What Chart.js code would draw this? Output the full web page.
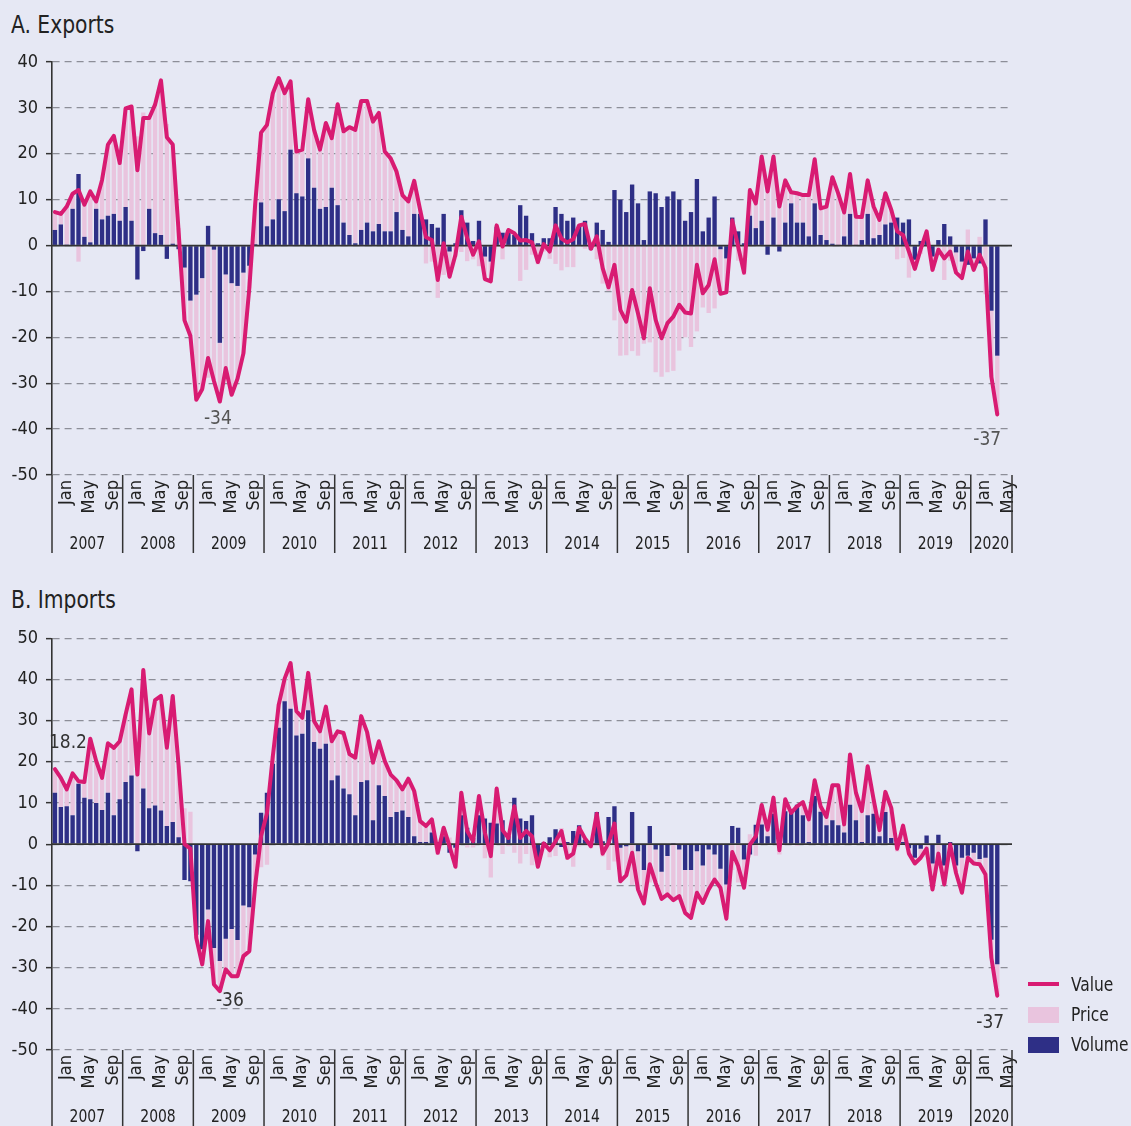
<!DOCTYPE html>
<html>
<head>
<meta charset="utf-8">
<script src="https://cdn.jsdelivr.net/npm/chart.js@4.4.0/dist/chart.umd.min.js"></script>
<style>
  html, body { margin: 0; padding: 0; background: #e6e8f4; }
  body { width: 1131px; height: 1126px; position: relative; overflow: hidden;
         font-family: 'DejaVu Sans Condensed', 'Liberation Sans', sans-serif; color: #222; }
  .title { position: absolute; left: 11px; font-size: 24px; line-height: 30px; white-space: nowrap;
           transform: scaleX(0.94); transform-origin: left center; }
  .wrap { position: absolute; left: 0; width: 1131px; }
  .lg-sw { position: absolute; left: 1028px; width: 31px; }
  .lg-tx { position: absolute; left: 1071px; font-size: 20px; line-height: 24px; white-space: nowrap;
           transform: scaleX(0.86); transform-origin: left center; }
</style>
</head>
<body>
<div class="title" style="top:10px">A. Exports</div>
<div class="title" style="top:585px">B. Imports</div>
<div class="wrap" style="top:0;height:560px"><canvas id="exp" width="1131" height="560"></canvas></div>
<div class="wrap" style="top:575px;height:551px"><canvas id="imp" width="1131" height="551"></canvas></div>

<div class="lg-sw" style="top:982px;height:4px;background:#d81b72"></div>
<div class="lg-tx" style="top:972px">Value</div>
<div class="lg-sw" style="top:1007px;height:16px;background:#e9c4de"></div>
<div class="lg-tx" style="top:1002px">Price</div>
<div class="lg-sw" style="top:1037px;height:16px;background:#2e2f86"></div>
<div class="lg-tx" style="top:1032px">Volume</div>

<script>
// ---------- categories ----------
const YEARS = [2007, 2008, 2009, 2010, 2011, 2012, 2013, 2014, 2015, 2016, 2017, 2018, 2019, 2020];
const MONTHS = ['Jan','Feb','Mar','Apr','May','Jun','Jul','Aug','Sep','Oct','Nov','Dec'];
const SHOWN_MONTHS = ['Jan', 'May', 'Sep'];
const LAST_YEAR_MONTHS = 7;   // axis runs through Jul 2020, data ends May 2020

// ---------- A. Exports (year-on-year % change) ----------
const exportsVolume = [
  3.4, 4.6, 0.2, 8.0, 15.6, 1.9, 0.7, 8.0, 5.7, 6.5, 6.9, 5.4,
  8.4, 5.4, -7.4, -1.2, 8.0, 2.7, 2.3, -2.9, 0.4, -0.8, -4.8, -12.0,
  -10.7, -7.1, 4.3, -0.9, -21.2, -6.3, -8.2, -8.8, -5.9, -4.4, 0.3, 9.4,
  4.2, 5.7, 10.1, 7.5, 20.9, 11.4, 10.7, 19.0, 12.6, 8.0, 8.4, 12.6,
  8.8, 5.0, 2.3, 0.5, 3.4, 5.0, 3.1, 4.7, 3.1, 3.1, 7.3, 3.4,
  2.0, 6.9, 6.9, 5.7, 4.7, 3.9, 6.9, -1.3, 0.5, 7.7, 5.0, 1.0,
  5.4, -2.4, -3.5, 4.1, 2.8, 3.4, 2.3, 8.8, 6.5, 2.7, 0.5, 1.6,
  1.6, 8.4, 6.9, 5.4, 6.1, 4.5, 5.4, -0.9, 5.0, 3.4, 0.8, 12.1,
  10.0, 7.3, 13.3, 9.2, 1.2, 11.8, 11.4, 8.4, 10.7, 11.8, 10.0, 5.4,
  7.3, 14.5, 3.1, 6.1, 10.7, -0.8, -2.8, 6.1, 3.1, 0.5, 6.5, 3.8,
  5.4, -2.0, 6.1, -1.3, 5.0, 9.2, 5.0, 5.0, 2.0, 9.2, 2.3, 1.2,
  0.4, 0.1, 2.0, 6.9, 0.1, 1.2, 6.9, 1.6, 2.3, 4.6, 5.0, 6.1,
  5.0, 5.7, -3.1, 1.0, 2.0, -2.4, 1.2, 4.7, 2.0, -1.5, -3.5, -4.2,
  -2.8, -3.9, 5.7, -14.2, -24.0
];
const exportsPrice = [
  3.9, 2.3, 8.3, 3.3, -3.5, 7.0, 11.1, 1.6, 8.6, 15.5, 17.0, 12.6,
  21.5, 24.9, 23.8, 29.0, 19.8, 28.0, 33.7, 26.5, 21.6, 3.8, -11.5, -7.7,
  -22.9, -24.2, -28.8, -28.6, -12.8, -20.4, -24.3, -20.2, -17.6, -4.9, 8.7, 15.2,
  22.1, 27.5, 26.4, 25.7, 14.9, 9.1, 10.2, 12.9, 12.6, 12.9, 18.3, 10.8,
  22.0, 19.9, 23.5, 24.7, 28.1, 26.5, 23.9, 24.2, 17.4, 15.9, 8.8, 7.6,
  7.6, 7.2, 0.9, -3.9, -3.5, -11.4, -6.4, -5.5, -2.5, -1.4, -3.4, -3.0,
  -4.5, -4.9, -4.3, 0.3, -3.0, 0.0, 0.4, -7.7, -5.3, -2.0, -4.1, -1.3,
  -2.9, -4.0, -5.4, -4.7, -4.7, -0.1, -0.7, 0.2, -3.0, -8.3, -9.9, -16.3,
  -24.0, -23.9, -23.0, -24.0, -21.4, -21.1, -27.6, -28.6, -27.6, -27.3, -22.9, -20.0,
  -22.1, -18.7, -13.5, -14.7, -13.7, -9.7, -7.4, -0.6, -3.3, -6.4, 5.6, 5.4,
  14.0, 13.8, 13.3, 9.8, 9.2, 2.4, 6.4, 6.0, 9.0, 9.6, 5.8, 7.3,
  14.5, 11.2, 5.2, 8.7, 6.2, 5.0, 7.3, 6.9, 3.3, 6.8, 2.8, -3.0,
  -2.7, -7.0, -2.0, -1.8, 1.1, -2.9, -2.1, -7.5, -3.3, -4.4, -3.6, 3.5,
  -2.5, 1.9, -10.6, -14.4, -12.8
];
const exportsValue = [
  7.3, 6.9, 8.5, 11.3, 12.1, 8.9, 11.8, 9.6, 14.3, 22.0, 23.9, 18.0,
  29.9, 30.3, 16.4, 27.8, 27.8, 30.7, 36.0, 23.6, 22.0, 3.0, -16.3, -19.7,
  -33.6, -31.3, -24.5, -29.5, -34.0, -26.7, -32.5, -29.0, -23.5, -9.3, 9.0, 24.6,
  26.3, 33.2, 36.5, 33.2, 35.8, 20.5, 20.9, 31.9, 25.2, 20.9, 26.7, 23.4,
  30.8, 24.9, 25.8, 25.2, 31.5, 31.5, 27.0, 28.9, 20.5, 19.0, 16.1, 11.0,
  9.6, 14.1, 7.8, 1.8, 1.2, -7.5, 0.5, -6.8, -2.0, 6.3, 1.6, -2.0,
  0.9, -7.3, -7.8, 4.4, -0.2, 3.4, 2.7, 1.1, 1.2, 0.7, -3.6, 0.3,
  -1.3, 4.4, 1.5, 0.7, 1.4, 4.4, 4.7, -0.7, 2.0, -4.9, -9.1, -4.2,
  -14.0, -16.6, -9.7, -14.8, -20.2, -9.3, -16.2, -20.2, -16.9, -15.5, -12.9, -14.6,
  -14.8, -4.2, -10.4, -8.6, -3.0, -10.5, -10.2, 5.5, -0.2, -5.9, 12.1, 9.2,
  19.4, 11.8, 19.4, 8.5, 14.2, 11.6, 11.4, 11.0, 11.0, 18.8, 8.1, 8.5,
  14.9, 11.3, 7.2, 15.6, 6.3, 6.2, 14.2, 8.5, 5.6, 11.4, 7.8, 3.1,
  2.3, -1.3, -5.1, -0.8, 3.1, -5.3, -0.9, -2.8, -1.3, -5.9, -7.1, -1.3,
  -5.3, -2.0, -4.9, -28.6, -36.8
];

// ---------- B. Imports (year-on-year % change) ----------
const importsVolume = [
  12.5, 9.0, 9.2, 7.0, 14.7, 11.3, 10.9, 10.0, 8.3, 12.5, 7.0, 10.9,
  15.1, 16.7, -1.7, 13.5, 8.7, 9.4, 8.2, 4.4, 5.4, 1.7, -8.7, -9.0,
  -22.0, -25.5, -15.9, -25.2, -28.4, -23.0, -20.6, -23.3, -14.9, -15.3, -2.5, 7.6,
  12.5, 19.5, 28.3, 34.7, 32.9, 26.4, 26.8, 32.5, 24.8, 23.2, 24.4, 15.5,
  16.7, 13.5, 12.1, 7.0, 15.1, 15.5, 5.8, 14.3, 11.7, 6.6, 7.8, 8.2,
  6.6, 1.9, 0.5, 0.5, 2.8, 0.5, 1.9, -2.1, -0.9, 7.0, 4.0, 1.5,
  7.0, 6.2, 5.2, 5.0, 5.8, 2.0, 11.3, 6.2, 5.6, 7.0, -3.7, 0.5,
  1.7, 3.6, -0.7, 0.5, 3.2, 4.6, 1.1, 0.5, 7.8, 0.7, 6.6, 9.2,
  -0.9, -0.5, 7.8, -1.7, -6.3, 4.4, -1.3, -6.7, -2.9, 0.3, -1.3, -6.3,
  -6.3, -1.7, -5.2, -1.3, -2.5, -6.0, -9.8, 4.4, 4.0, -3.7, -2.5, 4.7,
  4.8, 1.9, 7.4, 1.0, 8.0, 7.6, 9.6, 7.0, 0.5, 11.7, 7.9, 4.6,
  5.8, 4.6, 2.8, 9.6, 5.8, 0.5, 7.0, 7.4, 1.9, 7.8, 1.5, 0.7,
  0.5, -1.0, -3.3, -1.1, 2.1, -4.7, 2.3, -5.2, 0.5, -5.2, -3.3, -2.8,
  -2.1, -3.6, -3.3, -23.2, -29.2
];
const importsPrice = [
  5.7, 7.1, 4.1, 10.2, 0.6, 3.8, 14.7, 10.2, 7.8, 12.0, 16.4, 14.1,
  16.4, 20.9, 18.6, 28.8, 18.2, 25.6, 27.8, 19.0, 30.6, 17.3, 8.7, 7.9,
  -0.8, -3.7, -2.8, -8.9, -7.3, -7.4, -11.5, -8.8, -12.3, -10.7, -7.5, -5.6,
  -5.0, 1.9, 5.6, 5.5, 11.1, 5.9, 3.9, 9.1, 5.1, 4.2, 9.0, 9.5,
  10.7, 13.5, 9.8, 14.0, 16.0, 11.7, 14.0, 10.7, 8.5, 10.3, 7.7, 5.1,
  9.3, 11.0, 5.1, 3.9, 3.2, -2.6, 2.1, 1.6, -4.6, 5.5, -0.8, -0.8,
  4.7, -3.4, -8.1, 8.5, -2.4, -0.5, -2.1, -4.7, -2.4, -5.1, -1.8, -0.3,
  -3.2, -2.9, 3.9, -3.8, -5.5, -0.6, 0.3, -1.0, -0.4, -3.0, -6.3, -4.2,
  -8.1, -7.1, -9.9, -9.3, -8.1, -9.3, -8.1, -6.6, -9.3, -13.9, -11.3, -10.4,
  -11.6, -10.1, -9.1, -9.7, -6.1, -4.6, -8.3, -6.3, -9.3, -6.9, 2.4, -2.8,
  4.7, 1.6, 3.9, -2.5, 2.9, 0.0, -0.4, 3.2, 5.5, 3.8, 1.3, 2.0,
  8.5, 9.7, 2.0, 12.2, 6.7, 7.5, 11.9, 3.5, 1.5, 4.9, 7.3, -1.8,
  4.0, -1.3, -1.4, -2.2, -3.2, -6.3, -4.6, -4.6, -0.6, -1.8, -8.5, -0.5,
  -2.6, -1.3, -4.1, -4.4, -7.6
];
const importsValue = [
  18.2, 16.1, 13.3, 17.2, 15.3, 15.1, 25.6, 20.2, 16.1, 24.5, 23.4, 25.0,
  31.5, 37.6, 16.9, 42.3, 26.9, 35.0, 36.0, 23.4, 36.0, 19.0, 0.0, -1.1,
  -22.8, -29.2, -18.7, -34.1, -35.7, -30.4, -32.1, -32.1, -27.2, -26.0, -10.0, 2.0,
  7.5, 21.4, 33.9, 40.2, 44.0, 32.3, 30.7, 41.6, 29.9, 27.4, 33.4, 25.0,
  27.4, 27.0, 21.9, 21.0, 31.1, 27.2, 19.8, 25.0, 20.2, 16.9, 15.5, 13.3,
  15.9, 12.9, 5.6, 4.4, 6.0, -2.1, 4.0, -0.5, -5.5, 12.5, 3.2, 0.7,
  11.7, 2.8, -2.9, 13.5, 3.4, 1.5, 9.2, 1.5, 3.2, 1.9, -5.5, 0.2,
  -1.5, 0.7, 3.2, -3.3, -2.3, 4.0, 1.4, -0.5, 7.4, -2.3, 0.3, 5.0,
  -9.0, -7.6, -2.1, -11.0, -14.4, -4.9, -9.4, -13.3, -12.2, -13.6, -12.6, -16.7,
  -17.9, -11.8, -14.3, -11.0, -8.6, -10.6, -18.1, -1.9, -5.3, -10.6, -0.1, 1.9,
  9.5, 3.5, 11.3, -1.5, 10.9, 7.6, 9.2, 10.2, 6.0, 15.5, 9.2, 6.6,
  14.3, 14.3, 4.8, 21.8, 12.5, 8.0, 18.9, 10.9, 3.4, 12.7, 8.8, -1.1,
  4.5, -2.3, -4.7, -3.3, -1.1, -11.0, -2.3, -9.8, -0.1, -7.0, -11.8, -3.3,
  -4.7, -4.9, -7.4, -27.6, -36.8
];

// ---------- annotations (point index + label text) ----------
const exportsNotes = [ { index: 28, text: '-34' }, { index: 160, text: '-37' } ];
const importsNotes = [ { index: 0, text: '18.2' }, { index: 28, text: '-36' }, { index: 160, text: '-37' } ];

// ---------- build category table ----------
const categories = [];
const monthOfCategory = [];
YEARS.forEach((y, yi) => {
  const n = (yi === YEARS.length - 1) ? LAST_YEAR_MONTHS : 12;
  for (let m = 0; m < n; m++) { categories.push(MONTHS[m] + ' ' + y); monthOfCategory.push(MONTHS[m]); }
});

// ---------- styling ----------
const FONT = "'DejaVu Sans Condensed', 'Liberation Sans', sans-serif";
const C_VALUE = '#d81b72', C_PRICE = '#e9c4de', C_VOLUME = '#2e2f86';
Chart.defaults.font.family = FONT;
Chart.defaults.color = '#222';

const NOTE_OFFSETS = {
  exp: [ { dx: -2, dy: 17, color: '#555' }, { dx: -10, dy: 26, color: '#555' } ],
  imp: [ { dx: 13, dy: -26, color: '#333' }, { dx: 10, dy: 10, color: '#333' }, { dx: -7, dy: 27, color: '#333' } ]
};

function decorPlugin(key, notes, values, sepLen, yearDy) {
  return {
    id: 'decor_' + key,
    afterDatasetDraw(chart, args) {
      if (args.index !== 1) return;
      const { ctx, chartArea } = chart;
      const y0 = chart.scales.y.getPixelForValue(0);
      ctx.save();
      ctx.strokeStyle = '#333';
      ctx.lineWidth = 1.8;
      ctx.beginPath();
      ctx.moveTo(chartArea.left, y0);
      ctx.lineTo(chartArea.right, y0);
      ctx.stroke();
      ctx.restore();
    },
    afterDraw(chart) {
      const { ctx, chartArea } = chart;
      const xs = chart.scales.x, ys = chart.scales.y;
      const half = (xs.getPixelForValue(1) - xs.getPixelForValue(0)) / 2;
      const edges = YEARS.map((y, yi) => xs.getPixelForValue(yi * 12) - half);
      edges.push(chartArea.right);
      ctx.save();
      ctx.strokeStyle = '#333';
      ctx.lineWidth = 1.5;
      edges.forEach(ex => {
        ctx.beginPath();
        ctx.moveTo(ex, chartArea.bottom);
        ctx.lineTo(ex, chartArea.bottom + sepLen);
        ctx.stroke();
      });
      ctx.fillStyle = '#222';
      ctx.font = '18px ' + FONT;
      ctx.textAlign = 'center';
      ctx.textBaseline = 'middle';
      YEARS.forEach((y, yi) => {
        ctx.save();
        ctx.translate((edges[yi] + edges[yi + 1]) / 2, chartArea.bottom + yearDy);
        ctx.scale(0.86, 1);
        ctx.fillText(String(y), 0, 0);
        ctx.restore();
      });
      ctx.font = '19px ' + FONT;
      notes.forEach((n, k) => {
        const o = NOTE_OFFSETS[key][k];
        ctx.fillStyle = o.color;
        ctx.fillText(n.text, xs.getPixelForValue(n.index) + o.dx, ys.getPixelForValue(values[n.index]) + o.dy);
      });
      ctx.restore();
    }
  };
}

function build(id, volume, price, value, notes, opt) {
  return new Chart(document.getElementById(id), {
    data: {
      labels: categories,
      datasets: [
        { type: 'line', label: 'Value', data: value, borderColor: C_VALUE, borderWidth: 4,
          pointRadius: 0, tension: 0, stack: 'valueLine', order: 0,
          borderJoinStyle: 'round', borderCapStyle: 'round' },
        { type: 'bar', label: 'Volume', data: volume, backgroundColor: C_VOLUME, stack: 'pv', order: 1,
          barPercentage: 0.74, categoryPercentage: 1.0 },
        { type: 'bar', label: 'Price', data: price, backgroundColor: C_PRICE, stack: 'pv', order: 2,
          barPercentage: 0.74, categoryPercentage: 1.0 }
      ]
    },
    options: {
      responsive: false,
      animation: false,
      events: [],
      layout: { padding: { top: opt.padTop, right: 119, left: 0, bottom: 0 } },
      plugins: { legend: { display: false }, tooltip: { enabled: false } },
      scales: {
        x: {
          stacked: true,
          grid: { display: false, drawTicks: false },
          border: { display: false },
          ticks: {
            autoSkip: false, minRotation: 90, maxRotation: 90, padding: 5, labelOffset: 11,
            font: { size: 18 }, color: '#222',
            callback: (v, i) => SHOWN_MONTHS.includes(monthOfCategory[i]) ? monthOfCategory[i] : ''
          },
          afterFit: s => { s.height = opt.xHeight; }
        },
        y: {
          stacked: true, min: opt.min, max: opt.max,
          afterFit: s => { s.width = 52; },
          ticks: { stepSize: 10, padding: 8, font: { size: 18 }, color: '#222' },
          grid: { color: '#8d8e98', lineWidth: 1.3, tickLength: 6, tickColor: '#333', tickWidth: 1.5 },
          border: { display: true, color: '#333', width: 1.6, dash: [7, 5] }
        }
      }
    },
    plugins: [decorPlugin(id, notes, value, opt.sepLen, opt.yearDy)]
  });
}

build('exp', exportsVolume, exportsPrice, exportsValue, exportsNotes,
      { padTop: 62, xHeight: 85, min: -50, max: 40, sepLen: 78, yearDy: 69 });
build('imp', importsVolume, importsPrice, importsValue, importsNotes,
      { padTop: 63.3, xHeight: 76, min: -50, max: 50, sepLen: 76, yearDy: 67 });
</script>
</body>
</html>
